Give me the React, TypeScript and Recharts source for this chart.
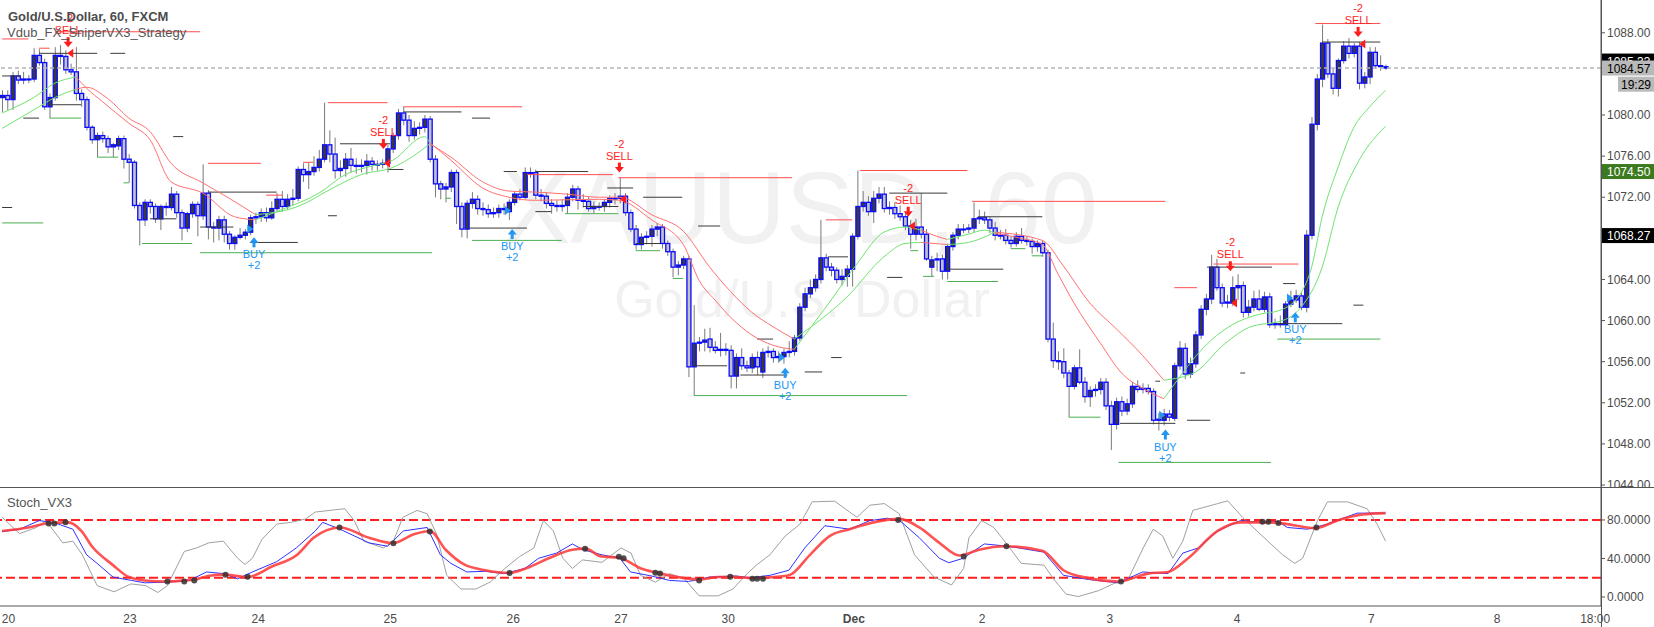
import React from "react";
import { Bar, ComposedChart, Line, ReferenceDot, ReferenceLine, XAxis, YAxis } from "recharts";

const FONT = '"Liberation Sans", Arial, sans-serif';

// hourly candles [open, high, low, close]
const candles: number[][] = [
  [1081.7, 1082.4, 1080.3, 1081.9], [1081.9, 1082.4, 1080.5, 1081.5], [1081.5, 1084.2, 1080.5, 1083.8], [1083.8, 1084.3, 1083.0, 1083.4],
  [1083.4, 1084.2, 1083.0, 1083.5], [1083.5, 1083.9, 1083.1, 1083.5], [1083.5, 1086.5, 1083.2, 1085.8], [1085.8, 1086.4, 1084.8, 1085.1],
  [1085.1, 1085.5, 1080.5, 1080.8], [1080.8, 1082.1, 1079.7, 1081.7], [1081.7, 1086.6, 1081.4, 1085.8], [1085.8, 1086.8, 1084.9, 1085.7],
  [1085.7, 1086.3, 1084.0, 1084.4], [1084.4, 1085.0, 1083.9, 1084.2], [1084.2, 1086.6, 1081.4, 1082.1], [1082.1, 1082.5, 1080.8, 1081.5],
  [1081.5, 1081.8, 1078.5, 1078.8], [1078.8, 1079.0, 1077.2, 1077.6], [1077.6, 1078.3, 1075.9, 1078.0], [1078.0, 1078.4, 1077.3, 1077.7],
  [1077.7, 1078.0, 1076.3, 1076.9], [1076.9, 1077.3, 1075.9, 1077.1], [1077.0, 1078.0, 1076.6, 1077.7], [1077.7, 1078.0, 1074.8, 1075.7],
  [1075.7, 1076.2, 1073.4, 1075.4], [1075.4, 1075.6, 1070.9, 1071.2], [1071.2, 1071.5, 1067.3, 1069.8], [1069.8, 1071.8, 1069.2, 1071.5],
  [1071.5, 1071.8, 1070.4, 1071.1], [1071.1, 1071.4, 1069.5, 1069.9], [1069.9, 1071.3, 1068.8, 1071.1], [1071.1, 1071.5, 1070.2, 1071.0],
  [1071.0, 1073.0, 1070.7, 1072.3], [1072.3, 1072.6, 1070.0, 1070.5], [1070.5, 1070.8, 1067.8, 1069.0], [1069.0, 1070.6, 1068.6, 1070.4],
  [1070.4, 1071.6, 1070.0, 1071.3], [1071.3, 1071.6, 1068.2, 1070.2], [1070.2, 1075.2, 1069.8, 1072.4], [1072.4, 1072.7, 1067.9, 1069.1],
  [1069.1, 1069.6, 1067.6, 1069.0], [1069.0, 1070.2, 1067.8, 1069.8], [1069.8, 1070.2, 1067.6, 1068.4], [1068.4, 1068.7, 1066.9, 1067.5],
  [1067.5, 1068.3, 1066.9, 1068.1], [1068.1, 1069.0, 1067.9, 1068.3], [1068.3, 1068.9, 1067.9, 1068.6], [1068.6, 1070.3, 1068.3, 1070.0],
  [1070.0, 1070.5, 1069.4, 1070.1], [1070.1, 1070.9, 1069.6, 1070.5], [1070.5, 1071.0, 1069.6, 1070.0], [1070.0, 1071.6, 1069.8, 1070.9],
  [1070.9, 1072.4, 1070.6, 1071.8], [1071.8, 1072.6, 1070.6, 1071.1], [1071.1, 1072.3, 1070.8, 1071.8], [1071.8, 1072.8, 1071.2, 1071.9],
  [1071.9, 1075.0, 1071.6, 1074.7], [1074.7, 1075.3, 1073.5, 1074.2], [1074.2, 1075.4, 1072.8, 1074.5], [1074.5, 1076.0, 1074.1, 1074.9],
  [1074.9, 1076.6, 1074.5, 1075.7], [1075.7, 1081.2, 1075.4, 1077.1], [1077.1, 1078.5, 1075.4, 1076.2], [1076.2, 1077.8, 1073.8, 1074.6],
  [1074.6, 1075.6, 1074.0, 1074.8], [1074.8, 1076.3, 1074.0, 1075.7], [1075.7, 1076.8, 1074.4, 1075.1], [1075.1, 1075.8, 1074.3, 1075.0],
  [1075.0, 1075.7, 1074.4, 1075.1], [1075.1, 1076.2, 1074.2, 1075.5], [1075.5, 1075.9, 1074.6, 1075.2], [1075.2, 1075.6, 1074.6, 1075.2],
  [1075.2, 1075.7, 1074.8, 1075.3], [1075.3, 1077.1, 1074.4, 1076.7], [1076.7, 1078.3, 1076.3, 1078.0], [1078.0, 1080.6, 1077.6, 1080.2],
  [1080.2, 1080.8, 1079.0, 1079.5], [1079.5, 1080.0, 1077.4, 1078.0], [1078.0, 1079.4, 1077.6, 1078.7], [1078.7, 1079.3, 1078.1, 1078.8],
  [1078.8, 1080.0, 1078.3, 1079.6], [1079.6, 1079.9, 1075.4, 1075.7], [1075.7, 1076.1, 1072.0, 1073.3], [1073.3, 1073.6, 1071.8, 1072.8],
  [1072.8, 1073.4, 1071.5, 1073.0], [1073.0, 1074.7, 1072.5, 1074.4], [1074.4, 1074.7, 1069.4, 1071.1], [1071.1, 1071.5, 1068.1, 1068.9],
  [1068.9, 1071.7, 1068.0, 1071.4], [1071.4, 1072.5, 1070.9, 1071.8], [1071.8, 1072.2, 1070.3, 1070.9], [1070.9, 1071.5, 1070.2, 1070.8],
  [1070.8, 1071.3, 1070.0, 1070.4], [1070.4, 1071.0, 1070.0, 1070.5], [1070.5, 1071.3, 1070.0, 1070.9], [1070.9, 1071.4, 1070.3, 1070.8],
  [1070.6, 1071.8, 1069.8, 1071.5], [1071.5, 1072.6, 1071.2, 1072.3], [1072.3, 1072.8, 1071.7, 1072.0], [1072.0, 1074.9, 1071.8, 1074.4],
  [1074.4, 1074.9, 1073.9, 1074.4], [1074.4, 1074.7, 1071.8, 1072.2], [1072.2, 1072.8, 1071.6, 1072.1], [1072.1, 1072.5, 1070.9, 1071.4],
  [1071.4, 1071.8, 1070.4, 1071.2], [1071.2, 1071.7, 1070.6, 1071.1], [1071.1, 1071.8, 1070.6, 1071.2], [1071.2, 1072.4, 1070.4, 1072.0],
  [1072.0, 1073.2, 1071.6, 1072.8], [1072.8, 1073.1, 1070.8, 1071.7], [1071.7, 1072.3, 1071.0, 1071.6], [1071.6, 1072.0, 1070.6, 1070.9],
  [1070.9, 1071.6, 1070.4, 1071.1], [1071.1, 1071.5, 1070.7, 1071.1], [1071.1, 1071.8, 1070.6, 1071.5], [1071.5, 1072.2, 1071.0, 1071.9],
  [1071.9, 1072.4, 1071.3, 1071.9], [1071.9, 1073.9, 1071.4, 1072.1], [1072.1, 1072.4, 1070.2, 1070.5], [1070.5, 1070.8, 1068.6, 1068.9],
  [1068.9, 1069.3, 1066.9, 1067.4], [1067.4, 1068.5, 1066.9, 1068.1], [1068.1, 1068.7, 1067.4, 1068.2], [1068.2, 1069.3, 1067.2, 1068.9],
  [1068.9, 1069.5, 1068.2, 1069.1], [1069.1, 1069.4, 1067.0, 1067.5], [1067.5, 1067.8, 1066.3, 1066.7], [1066.7, 1067.0, 1064.2, 1065.2],
  [1065.2, 1065.8, 1064.4, 1065.4], [1065.4, 1066.3, 1065.0, 1066.0], [1066.0, 1066.3, 1054.5, 1055.5], [1055.5, 1061.5, 1052.7, 1057.8],
  [1057.8, 1058.4, 1057.0, 1057.9], [1057.9, 1059.2, 1057.0, 1058.1], [1058.2, 1059.3, 1056.9, 1057.4], [1057.4, 1058.0, 1056.8, 1057.1],
  [1057.1, 1058.8, 1056.5, 1057.2], [1057.2, 1057.8, 1056.6, 1057.1], [1057.1, 1057.6, 1053.4, 1054.6], [1054.6, 1056.8, 1053.4, 1056.4],
  [1056.4, 1057.3, 1055.2, 1055.6], [1055.6, 1056.1, 1055.0, 1055.4], [1055.4, 1056.8, 1054.9, 1056.4], [1056.4, 1057.0, 1054.7, 1055.5],
  [1055.0, 1057.3, 1054.4, 1056.9], [1056.9, 1057.5, 1056.4, 1057.0], [1057.0, 1057.3, 1055.9, 1056.4], [1056.4, 1057.0, 1055.9, 1056.5],
  [1056.5, 1057.3, 1055.8, 1056.9], [1056.9, 1058.0, 1056.4, 1057.0], [1057.0, 1058.6, 1056.6, 1058.3], [1058.3, 1061.7, 1058.0, 1061.3],
  [1061.3, 1063.2, 1060.9, 1062.6], [1062.6, 1064.0, 1062.2, 1063.2], [1063.2, 1064.5, 1062.8, 1064.0], [1064.0, 1069.8, 1063.6, 1066.1],
  [1066.1, 1066.5, 1064.8, 1065.2], [1065.2, 1065.6, 1064.3, 1064.9], [1064.9, 1065.2, 1063.6, 1064.0], [1064.0, 1065.0, 1063.4, 1064.3],
  [1064.3, 1065.4, 1063.3, 1065.0], [1065.0, 1068.5, 1063.3, 1068.2], [1068.2, 1074.6, 1067.9, 1071.1], [1071.1, 1072.6, 1070.6, 1071.5],
  [1071.5, 1072.1, 1070.2, 1070.6], [1070.6, 1072.6, 1069.5, 1071.9], [1071.9, 1073.0, 1071.4, 1072.3], [1072.3, 1073.0, 1070.5, 1070.9],
  [1070.9, 1071.6, 1070.3, 1071.0], [1071.0, 1071.5, 1069.9, 1070.4], [1070.4, 1071.2, 1069.7, 1070.1], [1070.1, 1070.5, 1068.8, 1069.2],
  [1069.2, 1069.8, 1067.0, 1068.4], [1068.4, 1069.9, 1067.8, 1069.1], [1069.1, 1072.4, 1068.0, 1068.4], [1068.4, 1068.9, 1065.8, 1066.0],
  [1065.2, 1066.3, 1064.3, 1065.9], [1065.9, 1066.6, 1064.8, 1066.0], [1066.0, 1066.4, 1064.0, 1064.8], [1064.8, 1067.5, 1064.0, 1067.2],
  [1067.2, 1068.6, 1066.8, 1068.3], [1068.3, 1069.4, 1067.9, 1068.9], [1068.9, 1069.4, 1068.5, 1068.9], [1068.9, 1069.4, 1068.5, 1069.0],
  [1069.0, 1071.5, 1068.6, 1069.9], [1069.9, 1070.8, 1069.4, 1070.0], [1070.0, 1070.6, 1069.4, 1069.8], [1069.8, 1070.1, 1068.5, 1069.0],
  [1069.0, 1069.6, 1067.8, 1068.3], [1068.3, 1068.8, 1067.9, 1068.3], [1068.3, 1068.9, 1067.4, 1067.8], [1067.8, 1068.2, 1067.1, 1067.5],
  [1067.5, 1068.6, 1067.2, 1068.2], [1068.2, 1069.0, 1067.5, 1067.8], [1067.8, 1068.2, 1067.3, 1067.7], [1067.7, 1068.0, 1066.5, 1067.2],
  [1067.2, 1067.8, 1066.7, 1067.5], [1067.5, 1067.8, 1066.2, 1066.6], [1066.6, 1066.9, 1057.9, 1058.2], [1058.2, 1059.8, 1055.4, 1056.1],
  [1056.1, 1057.0, 1055.2, 1056.0], [1056.0, 1057.3, 1054.4, 1054.9], [1054.9, 1055.2, 1050.6, 1053.6], [1053.6, 1055.7, 1053.3, 1055.4],
  [1055.4, 1057.2, 1053.8, 1054.0], [1054.0, 1054.5, 1052.0, 1052.6], [1052.6, 1053.6, 1051.6, 1053.2], [1053.2, 1053.8, 1052.6, 1053.3],
  [1053.3, 1054.4, 1052.8, 1054.0], [1054.0, 1054.4, 1051.3, 1051.7], [1051.7, 1052.2, 1047.4, 1049.9], [1049.9, 1052.5, 1049.4, 1052.1],
  [1052.1, 1052.6, 1050.7, 1051.2], [1051.2, 1052.4, 1050.8, 1051.9], [1051.9, 1054.0, 1051.5, 1053.6], [1053.6, 1054.2, 1053.0, 1053.3],
  [1053.3, 1053.9, 1052.9, 1053.4], [1053.4, 1053.8, 1052.8, 1053.1], [1053.1, 1053.4, 1049.9, 1050.3], [1050.3, 1051.0, 1049.3, 1050.4],
  [1050.3, 1051.4, 1049.8, 1050.9], [1050.9, 1051.3, 1050.2, 1050.6], [1050.5, 1055.9, 1050.2, 1055.6], [1055.6, 1058.0, 1055.2, 1057.3],
  [1057.3, 1057.8, 1054.3, 1054.8], [1054.8, 1056.4, 1054.4, 1055.8], [1055.8, 1059.0, 1055.4, 1058.6], [1058.6, 1061.5, 1058.2, 1061.1],
  [1061.1, 1062.6, 1060.5, 1062.1], [1062.1, 1066.4, 1061.6, 1065.2], [1065.2, 1066.0, 1062.9, 1063.2], [1063.2, 1063.6, 1061.3, 1061.7],
  [1061.7, 1062.5, 1061.2, 1061.8], [1061.7, 1064.3, 1061.4, 1063.2], [1063.2, 1064.5, 1062.0, 1063.4], [1063.4, 1063.8, 1060.3, 1060.8],
  [1060.8, 1062.0, 1060.4, 1061.3], [1061.3, 1062.9, 1060.9, 1062.1], [1062.1, 1063.0, 1060.9, 1061.1], [1061.1, 1062.8, 1060.8, 1062.3],
  [1062.3, 1062.7, 1059.3, 1059.6], [1059.6, 1060.2, 1059.2, 1059.7], [1059.7, 1060.5, 1059.3, 1059.6], [1059.6, 1061.9, 1059.3, 1061.6],
  [1061.6, 1062.9, 1061.3, 1062.0], [1062.0, 1063.0, 1061.7, 1062.4], [1062.4, 1062.7, 1061.0, 1061.3], [1061.3, 1068.8, 1060.8, 1068.3],
  [1068.3, 1079.8, 1067.9, 1079.1], [1079.1, 1084.0, 1078.5, 1083.5], [1083.5, 1088.8, 1082.7, 1087.0], [1087.0, 1087.4, 1083.6, 1084.0],
  [1084.0, 1084.5, 1082.0, 1082.6], [1082.6, 1085.5, 1081.8, 1085.3], [1085.3, 1087.2, 1085.0, 1086.7], [1086.7, 1087.5, 1085.5, 1086.0],
  [1086.0, 1087.0, 1085.6, 1086.7], [1086.7, 1087.1, 1082.5, 1083.1], [1083.1, 1084.2, 1082.6, 1083.7], [1083.7, 1086.6, 1083.0, 1086.1],
  [1086.1, 1086.6, 1084.5, 1084.8], [1084.8, 1085.8, 1084.3, 1084.7], [1084.7, 1084.9, 1084.4, 1084.57],
];

// the two strategy averages, [bar, price]
const emaFast = [
  [0, 1080.2], [6, 1081.7], [10, 1083.1], [14, 1083.7], [16, 1082.6], [19, 1081.3], [24, 1079.2], [28, 1077.6], [32, 1073.5],
  [38, 1072.4], [44, 1070.1], [48, 1069.8], [53, 1070.8], [60, 1072.4], [65, 1074.2], [69, 1074.9], [74, 1075.6], [80, 1077.9],
  [81, 1077.3], [85, 1075.6], [91, 1072.9], [96, 1072.0], [101, 1071.7], [113, 1071.8], [117, 1071.7], [123, 1069.8], [129, 1067.4],
  [132, 1063.9], [135, 1062.0], [138, 1060.3], [142, 1058.6], [146, 1057.6], [150, 1057.2], [157, 1062.0], [162, 1065.6],
  [167, 1068.6], [171, 1069.1], [174, 1068.8], [177, 1068.2], [179, 1067.9], [183, 1068.4], [186, 1068.8], [188, 1068.5],
  [193, 1068.0], [197, 1067.4], [200, 1064.5], [203, 1061.7], [208, 1057.8], [212, 1054.9], [216, 1053.4], [220, 1052.4],
  [223, 1054.5], [226, 1056.5], [229, 1058.1], [233, 1059.6], [238, 1060.6], [242, 1061.0], [246, 1062.7], [248, 1065.2],
  [250, 1070.1], [253, 1074.9], [256, 1078.8], [259, 1080.8], [262, 1082.4],
];
const emaSlow = [
  [0, 1078.7], [6, 1080.5], [10, 1081.7], [14, 1082.5], [16, 1082.7], [20, 1081.6], [24, 1079.7], [28, 1078.4], [32, 1075.3],
  [38, 1073.4], [43, 1071.9], [48, 1070.3], [56, 1071.1], [63, 1073.0], [68, 1074.2], [74, 1074.9], [80, 1076.8], [81, 1077.2],
  [85, 1075.9], [91, 1073.5], [96, 1072.6], [101, 1072.5], [107, 1072.3], [113, 1072.0], [117, 1072.0], [123, 1070.3], [129, 1068.7],
  [134, 1065.2], [138, 1062.8], [142, 1060.8], [146, 1059.4], [150, 1058.2], [160, 1062.3], [167, 1066.2], [171, 1067.5],
  [174, 1067.6], [179, 1067.4], [183, 1067.6], [188, 1068.6], [197, 1067.8], [201, 1065.3], [206, 1061.7], [211, 1059.2],
  [216, 1056.6], [220, 1054.2], [226, 1055.0], [231, 1057.5], [236, 1059.3], [243, 1060.1], [246, 1061.3], [250, 1065.2],
  [253, 1071.0], [257, 1075.6], [262, 1078.9],
];
// trend colour of the averages: [from bar, to bar, up?]
const trend: [number, number, boolean][] = [
  [0, 14, true], [14, 48, false], [48, 81, true], [81, 150, false], [150, 174, true],
  [174, 179, false], [179, 188, true], [188, 220, false], [220, 262, true],
];

// pivot level segments [from bar, to bar, price]
const redLevels = [
  [0, 5, 1087.4], [7, 9, 1086.5], [10, 37.5, 1088.1], [39, 49, 1075.3], [50, 53, 1072.2], [57, 59, 1075.4],
  [61.7, 73, 1081.2], [76, 98.5, 1080.8], [99.4, 115.7, 1074.2], [116.7, 149.6, 1073.9], [156, 161, 1069.8],
  [162.5, 182.8, 1074.6], [183.7, 220.3, 1071.6], [222, 226.3, 1063.2], [229.4, 245.5, 1065.5], [248.7, 261, 1088.9],
];
const greenLevels = [
  [0, 7.8, 1069.5], [9, 15, 1079.7], [18, 22, 1075.9], [23, 24, 1073.4], [26.5, 36, 1067.5], [37.5, 81.4, 1066.6],
  [84, 85, 1071.9], [89, 106, 1067.8], [106.6, 116.7, 1070.4], [120, 124.6, 1066.8], [127, 129, 1064.1],
  [131, 171.4, 1052.7], [172, 173.5, 1066.8], [174.4, 176.5, 1064.3], [179, 188.6, 1063.8], [191, 193.8, 1067.0],
  [195, 197, 1066.3], [202, 208, 1050.6], [211.4, 240.3, 1046.2], [241.5, 261, 1058.2],
];
const blackLevels = [
  [0, 3.4, 1083.8], [7, 18, 1086.0], [20.5, 23.3, 1086.0], [4, 7, 1079.7], [9, 15, 1081.0], [32.4, 34.3, 1077.9],
  [0, 1.9, 1071.0], [28, 33, 1069.9], [37.5, 43.8, 1069.1], [39, 52, 1072.5], [47, 56, 1067.6], [64, 73.5, 1077.2],
  [73, 76, 1074.7], [76, 87, 1080.3], [89, 92.4, 1079.7], [61.7, 63.4, 1070.2], [88.6, 99.4, 1069.0], [95, 97.5, 1074.5],
  [101, 111, 1074.5], [101, 104, 1070.6], [110, 116.7, 1071.1], [114.6, 119.5, 1072.9], [121.4, 128.8, 1072.0],
  [120, 124.6, 1067.5], [131.8, 136, 1069.2], [130.9, 137.3, 1055.6], [139.8, 148.7, 1054.7], [143, 146, 1058.2],
  [152, 155.3, 1055.0], [156.4, 160.2, 1066.2], [157, 159, 1056.4], [167.6, 170.5, 1064.2], [168, 179, 1072.4],
  [179, 189.6, 1065.0], [184.8, 197, 1070.1], [211.7, 222.2, 1050.0], [224.4, 228.8, 1050.3], [218.4, 219.3, 1054.1],
  [234.5, 235.4, 1054.9], [228.2, 240.5, 1065.2], [242.6, 244.9, 1063.6], [241.5, 253.8, 1059.7], [250, 261, 1087.1],
  [255.9, 257.8, 1061.5],
];

// strategy signals [bar, price]
const sellArrows = [[12.5, 1086.6], [72.2, 1076.7], [116.9, 1074.4], [171.6, 1070.1], [232.6, 1064.8], [256.8, 1087.6]];
const sellFlags = [[12.9, 1086.0], [72.9, 1075.3], [117.6, 1071.8], [172.3, 1069.2], [233.3, 1061.7], [257.6, 1086.9]];
const buyArrows = [[47.7, 1068.1], [96.6, 1068.9], [148.3, 1055.4], [220.3, 1049.4], [244.9, 1060.8]];
const buyFlags = [[47, 1068.9], [95.8, 1070.7], [147.7, 1056.4], [219.7, 1050.8], [243.9, 1062.2]];

// Stoch_VX3 panel [bar, value]
const stochD = [
  [0, 68.6], [5, 72.2], [9, 76.8], [12.5, 77.5], [15, 68.6], [17, 52.7], [21, 33.1], [24, 20.7], [27, 17.2], [31, 16.1],
  [34.5, 17.2], [36.5, 18.2], [39, 21.8], [42, 23.2], [46.5, 20.7], [51, 31.4], [56, 44.5], [59, 61.5], [64, 72.2],
  [69.5, 61.5], [74, 55.9], [78, 65.1], [81, 68.6], [84, 49.1], [87.5, 33.8], [91.5, 27.8], [96, 25.0], [100, 31.4],
  [103.5, 40.2], [108, 49.1], [110.5, 50.2], [113.5, 42.0], [117, 40.9], [118, 38.5], [121, 29.6], [124, 25.3],
  [128, 20.7], [132, 18.2], [135.5, 20.7], [138.5, 21.1], [142, 19.5], [144.5, 20], [149, 22.5], [153, 43.8],
  [156.7, 63.3], [160.5, 70.4], [165, 77.5], [170, 81.1], [173.7, 72.2], [177.5, 56.2], [181.3, 43.1], [185, 49.1],
  [190, 52.7], [197, 48.0], [201, 27.8], [205.7, 19.6], [211.4, 16.1], [217, 24.3], [220.8, 26], [224.6, 40.2],
  [230.2, 68.6], [234.5, 77.5], [239.7, 77.5], [243.4, 75.7], [246.3, 72.9], [248.6, 71.5], [252.8, 79.3], [257.6, 85.7],
  [262, 87.1],
];
const stochK = [
  [0, 67.9], [3.3, 70.4], [7, 79.3], [9.7, 77.5], [13.4, 70.4], [16, 43.8], [18, 34.9], [21, 20.7], [24.5, 17.2],
  [27, 14.7], [31, 15.4], [35.5, 17.2], [38.7, 26], [42, 24.3], [44.6, 18.9], [47.4, 26], [52, 36.7], [55.7, 50.9],
  [59.3, 68.6], [60.7, 77.5], [64, 70.4], [69.5, 56.2], [73, 52.7], [76, 68.6], [80.5, 72.2], [83, 43.8], [85, 34.9],
  [88, 26], [91.5, 26.7], [95, 24.3], [99, 29.6], [101.6, 40.2], [105, 45.6], [108, 55.1], [110, 49.1], [113.6, 43.8],
  [117, 40.2], [119, 26], [123, 21.8], [126.4, 17.2], [130, 16.1], [134, 20.7], [139, 21.8], [141.7, 20], [145.4, 22.5],
  [149, 27.8], [152, 50.9], [155.8, 74], [160.5, 70.4], [164.3, 79.3], [167.6, 81.8], [170, 79.3], [173.7, 61.5],
  [177.5, 40.2], [179.3, 35.6], [182, 40.2], [186, 55.1], [190.6, 52.7], [197.3, 46.6], [201, 22.5], [205.7, 18.2],
  [211.4, 14.7], [216, 26], [220.8, 24.3], [223.6, 45.6], [226.5, 50.9], [230.2, 68.6], [234.5, 79.3], [238.7, 77.5],
  [241.6, 78.6], [243.4, 72.2], [247.2, 70.4], [251, 75.7], [256.6, 87.1], [262, 87.1],
];
const stochRaw = [
  [0, 82.8], [3.3, 65.8], [6.5, 72.2], [8.3, 79.3], [11.5, 56.2], [13.4, 58], [15.2, 43.8], [18, 11.8], [21.2, 5.4],
  [24.4, 13.6], [27.2, 11.8], [29.5, 4.7], [31.3, 11.8], [34.5, 47.3], [36.8, 50.9], [39.1, 56.2], [41.9, 58], [44.6, 40.2],
  [46, 33.8], [47.4, 40.2], [49.2, 59.8], [52, 75.7], [54.7, 77.5], [57.5, 81.1], [59.3, 88.2], [64.9, 91.7], [66.7, 79.3],
  [68.5, 58], [72.2, 50.9], [74.1, 58], [75.9, 82.8], [78.6, 89.9], [80.5, 86.4], [82.3, 65.1], [84.2, 22.5], [86.9, 8.3],
  [89.7, 8.3], [92.4, 15.4], [95.2, 29.6], [98, 42], [100.7, 50.9], [102.5, 79.3], [104.4, 68.6], [106.2, 40.2], [108, 29.6],
  [109.9, 38.5], [113.6, 36], [117.2, 50.9], [119.1, 45.6], [120.9, 22.5], [123.7, 15.4], [126.4, 24.3], [129.2, 18.9],
  [132, 1.2], [135.6, 1.2], [138.4, 8.3], [141.1, 24.3], [143, 33.8], [145.4, 43.8], [148.3, 63.3], [151.1, 75.7],
  [153.4, 98.8], [157.7, 99.5], [160.5, 88.2], [161.9, 82.8], [164.3, 95.3], [167.1, 97], [169.9, 86.4], [172.8, 43.8],
  [176.5, 20.7], [179.8, 12.5], [182.1, 29.6], [183.1, 61.5], [185.5, 79.3], [187.8, 72.2], [190.6, 52.7], [193, 34.9],
  [197.3, 33.1], [199.1, 18.9], [201.5, 3], [203.8, 0.5], [207.6, 6.5], [210.4, 13.6], [213.3, 18.9], [216.1, 50.9],
  [218, 70.4], [219.8, 63.3], [221.7, 40.2], [223.6, 58], [225.5, 89.9], [230.2, 97], [232.1, 99.9], [234.9, 82.8],
  [239.7, 58], [242.5, 43.8], [244.8, 34.9], [246.3, 40.2], [249.1, 79.3], [251, 98.8], [254.8, 98.8], [258.5, 91.7],
  [260.4, 75.7], [262, 58],
];
const stochDots = [
  [8.8, 76.4], [9.9, 76.4], [12, 77.5], [31.3, 16.1], [34.5, 16.1], [36.4, 17.2], [42.3, 23.2], [46.5, 21.1], [63.9, 72.2],
  [74.1, 55.9], [81, 67.9], [96.1, 25], [110.4, 50.2], [116.8, 41.7], [117.7, 40.2], [123.7, 25.3], [124.6, 24.3],
  [132, 17.2], [137.9, 21.1], [142.1, 18.9], [143, 18.9], [144.1, 18.9], [169.7, 80], [182.1, 42], [190.2, 52.7],
  [211.9, 16.1], [238.7, 78.2], [239.8, 78.2], [241.7, 76.8], [248.9, 72.2],
];

const dayTicks = [1.2, 24.2, 48.5, 73.5, 96.8, 117.2, 137.5, 161.3, 185.6, 209.8, 233.9, 259.3, 283.1, 301.7];
const dayLabels = ["20", "23", "24", "25", "26", "27", "30", "Dec", "2", "3", "4", "7", "8", "18:00"];
const priceTicks = [1044, 1048, 1052, 1056, 1060, 1064, 1072, 1076, 1080, 1088];
const stochTicks = [0, 40, 80];
const lastPrice = 1084.57;
// right-hand price tags [price, text, background, text colour]
const priceTags: [number, string, string, string][] = [
  [1085.25, "1085.33", "#000000", "#ffffff"],
  [1084.57, "1084.57", "#b9b9b9", "#000000"],
  [1074.5, "1074.50", "#3b7a1e", "#ffffff"],
  [1068.27, "1068.27", "#000000", "#ffffff"],
];

const X_DOMAIN: [number, number] = [-0.4, 302.8];

// one table row per candle; each coloured stretch of an average gets its own column
const mainRows: any[] = candles.map(([o, h, l, c], i) => ({ i, o, h, l, c, range: [l, h] }));
const emaKeys: { key: string; up: boolean }[] = [];
trend.forEach(([a, b, up], k) =>
  [emaFast, emaSlow].forEach((arr, j) => {
    const key = `e${k}_${j}`;
    emaKeys.push({ key, up });
    arr.forEach(([i, v]) => {
      if (i >= a && i <= b) mainRows[i][key] = v;
    });
  })
);

// stoch table merged on bar position
const stochMap = new Map<number, any>();
([["raw", stochRaw], ["k", stochK], ["d", stochD]] as [string, number[][]][]).forEach(([name, arr]) =>
  arr.forEach(([i, v]) => {
    const row = stochMap.get(i) ?? { i };
    row[name] = v;
    stochMap.set(i, row);
  })
);
const stochRows = [...stochMap.values()].sort((a, b) => a.i - b.i);

const Candle = (props: any) => {
  const { x, y, width, height, payload } = props;
  if (x == null || y == null || !payload) return null;
  const top = Math.min(y, y + height);
  const span = Math.abs(height);
  const { o, h, l, c } = payload;
  const rng = h - l || 1;
  const py = (v: number) => top + ((h - v) / rng) * span;
  const cx = x + width / 2;
  const bTop = py(Math.max(o, c));
  const bBot = py(Math.min(o, c));
  return (
    <g>
      <line x1={cx} x2={cx} y1={top} y2={top + span} stroke="#7a7a7a" strokeWidth={1} />
      <rect
        x={cx - 2}
        y={bTop}
        width={4}
        height={Math.max(bBot - bTop, 0.8)}
        fill={c >= o ? "#3a3a3a" : "#c2c2c2"}
        stroke="#0a0aff"
        strokeWidth={1.3}
      />
    </g>
  );
};

const SellArrow = ({ cx, cy }: any) => (
  <g fontFamily={FONT} fontSize={11} fill="#ff1c1c" textAnchor="middle">
    <text x={cx} y={cy - 25}>-2</text>
    <text x={cx} y={cy - 13}>SELL</text>
    <rect x={cx - 1.5} y={cy - 10} width={3} height={5} />
    <polygon points={`${cx - 4.5},${cy - 5.5} ${cx + 4.5},${cy - 5.5} ${cx},${cy}`} />
  </g>
);
const BuyArrow = ({ cx, cy }: any) => (
  <g fontFamily={FONT} fontSize={11} fill="#2196f3" textAnchor="middle">
    <polygon points={`${cx - 4.5},${cy + 5.5} ${cx + 4.5},${cy + 5.5} ${cx},${cy}`} />
    <rect x={cx - 1.5} y={cy + 5} width={3} height={5} />
    <text x={cx} y={cy + 21}>BUY</text>
    <text x={cx} y={cy + 32}>+2</text>
  </g>
);
const SellFlag = ({ cx, cy }: any) => (
  <polygon points={`${cx + 3},${cy - 4.5} ${cx + 3},${cy + 4.5} ${cx - 3},${cy}`} fill="#ff1c1c" />
);
const BuyFlag = ({ cx, cy }: any) => (
  <polygon points={`${cx - 3},${cy - 4.5} ${cx - 3},${cy + 4.5} ${cx + 3},${cy}`} fill="#2196f3" />
);
const PriceTag = ({ cx, cy, tag }: any) => (
  <g>
    <rect x={cx} y={cy - 7.5} width={53} height={15} fill={tag[2]} />
    <text x={cx + 6} y={cy + 4.5} fontSize={12} fontFamily={FONT} fill={tag[3]}>
      {tag[1]}
    </text>
  </g>
);

const AxisTick = ({ x, y, payload }: any) => {
  const label = dayLabels[dayTicks.indexOf(payload.value)] ?? "";
  return (
    <text x={x} y={y + 9} textAnchor="middle" fontSize={12} fontFamily={FONT} fill="#4a4a4a"
      fontWeight={label === "Dec" ? 700 : 400}>
      {label}
    </text>
  );
};

export default function App() {
  const tick = { fontSize: 12, fill: "#4a4a4a", fontFamily: FONT };
  return (
    <div style={{ position: "fixed", left: 0, top: 0, width: 1654, height: 627, background: "#fff", overflow: "hidden" }}>
      {/* watermark */}
      <svg width={1654} height={627} style={{ position: "absolute", left: 0, top: 0 }}>
        <text x={800} y={243} textAnchor="middle" fontSize={102} fontFamily={FONT} fill="#f1f1f1">XAUUSD, 60</text>
        <text x={802} y={317} textAnchor="middle" fontSize={52} fontFamily={FONT} fill="#f1f1f1">Gold/U.S. Dollar</text>
      </svg>

      <div style={{ position: "absolute", left: 0, top: 0 }}>
        <ComposedChart width={1654} height={488} data={mainRows} margin={{ top: 0, right: 0, bottom: 0, left: 0 }}>
          <XAxis type="number" dataKey="i" domain={X_DOMAIN} allowDataOverflow hide />
          <YAxis
            orientation="right"
            width={53}
            domain={[1043.71, 1091.19]}
            allowDataOverflow
            ticks={priceTicks}
            interval={0}
            tickFormatter={(v: number) => v.toFixed(2)}
            tick={tick}
            tickSize={4}
            tickMargin={2}
            axisLine={{ stroke: "#555" }}
            tickLine={{ stroke: "#555" }}
          />
          {blackLevels.map(([a, b, p], k) => (
            <ReferenceLine key={"k" + k} segment={[{ x: a, y: p }, { x: b, y: p }]} stroke="#3a3a3a" strokeWidth={1} />
          ))}
          {greenLevels.map(([a, b, p], k) => (
            <ReferenceLine key={"g" + k} segment={[{ x: a, y: p }, { x: b, y: p }]} stroke="#4caf50" strokeWidth={1} />
          ))}
          {redLevels.map(([a, b, p], k) => (
            <ReferenceLine key={"r" + k} segment={[{ x: a, y: p }, { x: b, y: p }]} stroke="#ff4d4d" strokeWidth={1} />
          ))}
          <ReferenceLine y={lastPrice} stroke="#b5b5b5" strokeWidth={1.6} strokeDasharray="4 3" />
          {emaKeys.map(({ key, up }) => (
            <Line
              key={key}
              dataKey={key}
              type="monotone"
              connectNulls
              stroke={up ? "#6fe36f" : "#ff7070"}
              strokeWidth={1}
              dot={false}
              activeDot={false}
              isAnimationActive={false}
            />
          ))}
          <Bar dataKey="range" barSize={4} shape={(p: any) => <Candle {...p} />} isAnimationActive={false} />
          {sellArrows.map(([i, p], k) => (
            <ReferenceDot key={"sa" + k} x={i} y={p} r={0} ifOverflow="visible" shape={(s: any) => <SellArrow {...s} />} />
          ))}
          {sellFlags.map(([i, p], k) => (
            <ReferenceDot key={"sf" + k} x={i} y={p} r={0} ifOverflow="visible" shape={(s: any) => <SellFlag {...s} />} />
          ))}
          {buyArrows.map(([i, p], k) => (
            <ReferenceDot key={"ba" + k} x={i} y={p} r={0} ifOverflow="visible" shape={(s: any) => <BuyArrow {...s} />} />
          ))}
          {buyFlags.map(([i, p], k) => (
            <ReferenceDot key={"bf" + k} x={i} y={p} r={0} ifOverflow="visible" shape={(s: any) => <BuyFlag {...s} />} />
          ))}
          {priceTags.map((tag, k) => (
            <ReferenceDot key={"t" + k} x={X_DOMAIN[1]} y={tag[0]} r={0} ifOverflow="visible"
              shape={(s: any) => <PriceTag {...s} tag={tag} />} />
          ))}
          <ReferenceDot x={X_DOMAIN[1]} y={1083.0} r={0} ifOverflow="visible"
            shape={(s: any) => (
              <g>
                <rect x={s.cx + 17} y={s.cy - 7.5} width={36} height={15} fill="#b9b9b9" />
                <text x={s.cx + 50} y={s.cy + 4.5} textAnchor="end" fontSize={12} fontFamily={FONT} fill="#000">19:29</text>
              </g>
            )} />
        </ComposedChart>
      </div>

      <div style={{ position: "absolute", left: 0, top: 488 }}>
        <ComposedChart width={1654} height={139} data={stochRows} margin={{ top: 0, right: 0, bottom: 0, left: 0 }}>
          <XAxis
            type="number"
            dataKey="i"
            domain={X_DOMAIN}
            allowDataOverflow
            ticks={dayTicks}
            interval={0}
            height={21}
            tickLine={false}
            axisLine={{ stroke: "#555" }}
            tick={(p: any) => <AxisTick {...p} />}
          />
          <YAxis
            orientation="right"
            width={53}
            domain={[-9.35, 113.2]}
            allowDataOverflow
            ticks={stochTicks}
            interval={0}
            tickFormatter={(v: number) => v.toFixed(4)}
            tick={tick}
            tickSize={4}
            tickMargin={2}
            axisLine={{ stroke: "#555" }}
            tickLine={{ stroke: "#555" }}
          />
          <ReferenceLine y={80} stroke="#ff1f1f" strokeWidth={2} strokeDasharray="9 4" />
          <ReferenceLine y={20} stroke="#ff1f1f" strokeWidth={2} strokeDasharray="9 4" />
          <Line dataKey="raw" type="linear" connectNulls stroke="#a0a0a0" strokeWidth={1} dot={false} activeDot={false} isAnimationActive={false} />
          <Line dataKey="k" type="linear" connectNulls stroke="#3030ff" strokeWidth={1} dot={false} activeDot={false} isAnimationActive={false} />
          <Line dataKey="d" type="monotone" connectNulls stroke="#ff3535" strokeOpacity={0.85} strokeWidth={2.6} dot={false} activeDot={false} isAnimationActive={false} />
          {stochDots.map(([i, v], k) => (
            <ReferenceDot key={"d" + k} x={i} y={v} r={3} fill="#333" fillOpacity={0.85} stroke="none" />
          ))}
        </ComposedChart>
      </div>

      {/* panel frame */}
      <div style={{ position: "absolute", left: 0, top: 487, width: 1654, height: 1, background: "#555" }} />
      <div style={{ position: "absolute", left: 1601, top: 0, width: 1, height: 627, background: "#555" }} />

      <svg width={1654} height={627} style={{ position: "absolute", left: 0, top: 0, pointerEvents: "none" }}>
        <text x={8} y={21} fontSize={13} fontWeight={700} fontFamily={FONT} fill="#4d4d4d">Gold/U.S.Dollar, 60, FXCM</text>
        <text x={7} y={37} fontSize={13} fontFamily={FONT} fill="#555">Vdub_FX_SniperVX3_Strategy</text>
        <text x={7} y={507} fontSize={13} fontFamily={FONT} fill="#555">Stoch_VX3</text>
      </svg>
    </div>
  );
}
